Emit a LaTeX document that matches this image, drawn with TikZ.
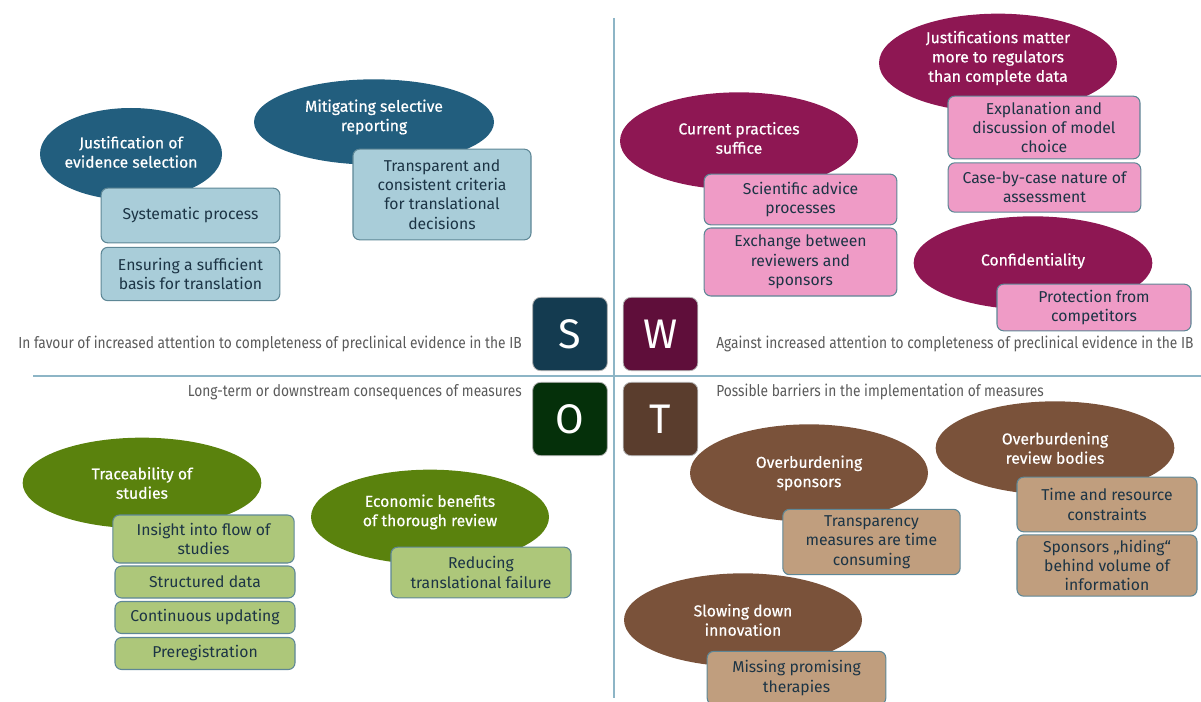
\documentclass[tikz,border=0pt]{standalone}
\usepackage{fontspec}
\setmainfont{Fira Sans}
\newfontfamily\labfont[FakeStretch=0.86]{Fira Sans}
\newfontfamily\ellfont[FakeBold=0.5]{Fira Sans}
\usetikzlibrary{shapes.geometric}
\definecolor{sEll}{HTML}{225E7E}\definecolor{sBox}{HTML}{A9CDD9}\definecolor{sLet}{HTML}{143B50}
\definecolor{wEll}{HTML}{8E1753}\definecolor{wBox}{HTML}{EF9BC6}\definecolor{wLet}{HTML}{5F0E3A}
\definecolor{oEll}{HTML}{5A820D}\definecolor{oBox}{HTML}{ADC77A}\definecolor{oLet}{HTML}{05300A}
\definecolor{tEll}{HTML}{7A523A}\definecolor{tBox}{HTML}{C09E7E}\definecolor{tLet}{HTML}{5A3D2D}
\definecolor{boxLine}{HTML}{5E8796}\definecolor{boxText}{HTML}{1C3445}
\definecolor{axis}{HTML}{8DB5C6}\definecolor{labGray}{HTML}{5A5A5A}
\begin{document}
\begin{tikzpicture}[x=0.75pt,y=-0.75pt,
  ell/.style={ellipse,inner sep=0pt},
  elltext/.style={text=white,align=center,inner sep=0pt,font=\ellfont\fontsize{11.8}{14.5}\selectfont},
  cbox/.style={rounded corners=5pt,draw=boxLine,line width=0.8pt,text=boxText,align=center,
     inner sep=2pt,font=\fontsize{11.8}{14.5}\selectfont},
  letbox/.style={rounded corners=6pt,draw=gray!60,line width=0.6pt,text=white,
     minimum width=56pt,minimum height=55pt,inner sep=0pt,font=\fontsize{31}{31}\selectfont},
  lab/.style={text=labGray,inner sep=0pt,font=\labfont\fontsize{12}{14}\selectfont},
  axisline/.style={draw=axis,line width=1.5pt}]
\useasboundingbox (0,0) rectangle (1201,702);
\begin{scope}
\clip (0,0) rectangle (1201,702);
% axes
\coordinate (vt) at (614,18); \coordinate (vb) at (614,698);
\coordinate (hl) at (33,376); \coordinate (hr) at (1201,376);
\draw[axisline] (vt) -- (vb);
\draw[axisline] (hl) -- (hr);
% letter boxes
\node[letbox,fill=sLet] (S) at (570,334) {S};
\node[letbox,fill=wLet] (W) at (660.5,334) {W};
\node[letbox,fill=oLet] (O) at (570,419) {O};
\node[letbox,fill=tLet] (T) at (660.5,419) {T};
% labels
\node[lab,anchor=east] (ls) at (522,344) {In favour of increased attention to completeness of preclinical evidence in the IB};
\node[lab,anchor=west] (lw) at (716,344) {Against increased attention to completeness of preclinical evidence in the IB};
\node[lab,anchor=east] (lo) at (522,392) {Long-term or downstream consequences of measures};
\node[lab,anchor=west] (lt) at (716,392) {Possible barriers in the implementation of measures};
% S quadrant
\node[ell,fill=sEll,minimum width=136.5pt,minimum height=69pt,
  label={[elltext,yshift=1.5pt]center:Justification of\\evidence selection}] (s1) at (131,154) {};
\node[ell,fill=sEll,minimum width=180pt,minimum height=64pt,
  label={[elltext,yshift=3.75pt]center:Mitigating selective\\reporting}] (s2) at (374,122) {};
\node[cbox,fill=sBox,minimum width=134pt,minimum height=41pt] (s1a) at (190.5,215.5) {Systematic process};
\node[cbox,fill=sBox,minimum width=134pt,minimum height=40pt] (s1b) at (190.5,274) {Ensuring a sufficient\\basis for translation};
\node[cbox,fill=sBox,minimum width=133.5pt,minimum height=68pt] (s2a) at (442,194.5) {Transparent and\\consistent criteria\\for translational\\decisions};
% W quadrant
\node[ell,fill=wEll,minimum width=178.5pt,minimum height=73pt,
  label={[elltext,yshift=2.25pt]center:Current practices\\suffice}] (w1) at (739,141) {};
\node[ell,fill=wEll,minimum width=178.5pt,minimum height=74pt,
  label={[elltext,yshift=3.75pt]center:Justifications matter\\more to regulators\\than complete data}] (w2) at (998,63) {};
\node[ell,fill=wEll,minimum width=179pt,minimum height=70pt,
  label={[elltext,yshift=1.5pt]center:Confidentiality}] (w3) at (1033,263) {};
\node[cbox,fill=wBox,minimum width=144.5pt,minimum height=38pt] (w1a) at (800.5,199.5) {Scientific advice\\processes};
\node[cbox,fill=wBox,minimum width=144.5pt,minimum height=51pt] (w1b) at (800.5,262) {Exchange between\\reviewers and\\sponsors};
\node[cbox,fill=wBox,minimum width=144pt,minimum height=47pt] (w2a) at (1044,127.5) {Explanation and\\discussion of model\\choice};
\node[cbox,fill=wBox,minimum width=144.5pt,minimum height=37pt] (w2b) at (1044.5,187.5) {Case-by-case nature of\\assessment};
\node[cbox,fill=wBox,minimum width=145.5pt,minimum height=35pt] (w3a) at (1094,307.5) {Protection from\\competitors};
% O quadrant
\node[ell,fill=oEll,minimum width=179pt,minimum height=68pt,
  label={[elltext]center:Traceability of\\studies}] (o1) at (142,483) {};
\node[ell,fill=oEll,minimum width=178.5pt,minimum height=71pt,
  label={[elltext,yshift=3.75pt]center:Economic benefits\\of thorough review}] (o2) at (430,517) {};
\node[cbox,fill=oBox,minimum width=136pt,minimum height=36pt] (o1a) at (203.5,539) {Insight into flow of\\studies};
\node[cbox,fill=oBox,minimum width=135pt,minimum height=24pt] (o1b) at (205,582) {Structured data};
\node[cbox,fill=oBox,minimum width=135pt,minimum height=24pt] (o1c) at (205,617.5) {Continuous updating};
\node[cbox,fill=oBox,minimum width=135pt,minimum height=24pt] (o1d) at (205,653.5) {Preregistration};
\node[cbox,fill=oBox,minimum width=135pt,minimum height=38pt] (o2a) at (481,572.5) {Reducing\\translational failure};
% T quadrant
\node[ell,fill=tEll,minimum width=178.5pt,minimum height=73pt,
  label={[elltext]center:Overburdening\\sponsors}] (t1) at (809,473) {};
\node[ell,fill=tEll,minimum width=179pt,minimum height=70pt,
  label={[elltext]center:Overburdening\\review bodies}] (t2) at (1055,448) {};
\node[ell,fill=tEll,minimum width=178.5pt,minimum height=70pt,
  label={[elltext]center:Slowing down\\innovation}] (t3) at (743,620) {};
\node[cbox,fill=tBox,minimum width=133pt,minimum height=49pt] (t1a) at (871.5,542) {Transparency\\measures are time\\consuming};
\node[cbox,fill=tBox,minimum width=135pt,minimum height=41pt] (t2a) at (1107,504.5) {Time and resource\\constraints};
\node[cbox,fill=tBox,minimum width=135pt,minimum height=46pt] (t2b) at (1107,565.5) {Sponsors „hiding“\\behind volume of\\information};
\node[cbox,fill=tBox,minimum width=134pt,minimum height=40pt] (t3a) at (796.5,678) {Missing promising\\therapies};
\end{scope}
\end{tikzpicture}
\end{document}
